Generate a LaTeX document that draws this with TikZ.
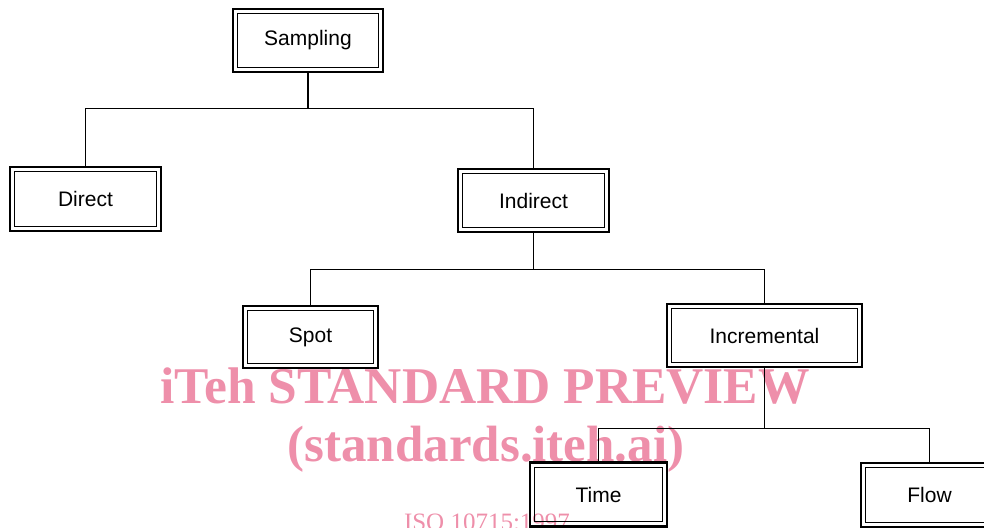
\documentclass[tikz,border=0pt]{standalone}
\usepackage{fontspec}
\setmainfont{Liberation Sans}
\newfontfamily\wmfont{Liberation Serif}
\usetikzlibrary{positioning}
\definecolor{wmpink}{RGB}{238,143,170}
\begin{document}
\begin{tikzpicture}[x=1pt,y=1pt]
\begin{scope}

\tikzstyle{outerbox} = [draw,line width=2.3pt,inner sep=0pt,font=\fontsize{21}{21}\selectfont];
\tikzstyle{innerline} = [draw,line width=1.1pt];
\tikzstyle{branch} = [draw,line width=1.1pt];
\tikzstyle{wmtext} = [text=wmpink,inner sep=0pt,anchor=base];

\clip (0,0) rectangle (984,-527);
\useasboundingbox (0,0) rectangle (984,-527);

% watermark (under the diagram)
\node [wmtext] (wm1) at (485,-403) {\wmfont\fontsize{51.5}{52}\selectfont\bfseries iTeh STANDARD PREVIEW};
\node [wmtext] (wm2) at (486,-461) {\wmfont\fontsize{51}{52}\selectfont\bfseries (standards.iteh.ai)};
\node [wmtext] (wm3) at (487,-530) {\wmfont\fontsize{25}{25}\selectfont ISO 10715:1997};

% boxes
\node [outerbox,minimum width=150pt,minimum height=63pt] (samp) at (308,-40.5) {Sampling};
\node [outerbox,minimum width=151pt,minimum height=64pt] (direct) at (85.5,-199) {Direct};
\node [outerbox,minimum width=151pt,minimum height=63pt] (indirect) at (533.5,-200.5) {Indirect};
\node [outerbox,minimum width=135pt,minimum height=62pt] (spot) at (310.5,-337) {Spot};
\node [outerbox,minimum width=195pt,minimum height=63pt] (incr) at (764.5,-335.5) {Incremental};
\node [outerbox,minimum width=137pt,minimum height=64pt] (time) at (598.5,-494.5) {Time};
\node [outerbox,minimum width=137pt,minimum height=64pt] (flow) at (929.5,-495) {Flow};

\foreach \b in {samp,direct,indirect,spot,incr,time,flow}
  \draw [innerline] ([xshift=5.5pt,yshift=-6pt]\b.north west) rectangle ([xshift=-5.5pt,yshift=6pt]\b.south east);

% tree lines
\coordinate (j1) at ([yshift=-35pt]samp.south);
\coordinate (j2) at ([yshift=-36pt]indirect.south);
\coordinate (j3) at ([yshift=-60pt]incr.south);

\draw [branch] (samp.south) -- (j1);
\draw [branch] (direct.north) |- (j1) -| (indirect.north);
\draw [branch] (indirect.south) -- (j2);
\draw [branch] (spot.north) |- (j2) -| (incr.north);
\draw [branch] (incr.south) -- (j3);
\draw [branch] (time.north) |- (j3) -| (flow.north);

\end{scope}
\end{tikzpicture}
\end{document}
